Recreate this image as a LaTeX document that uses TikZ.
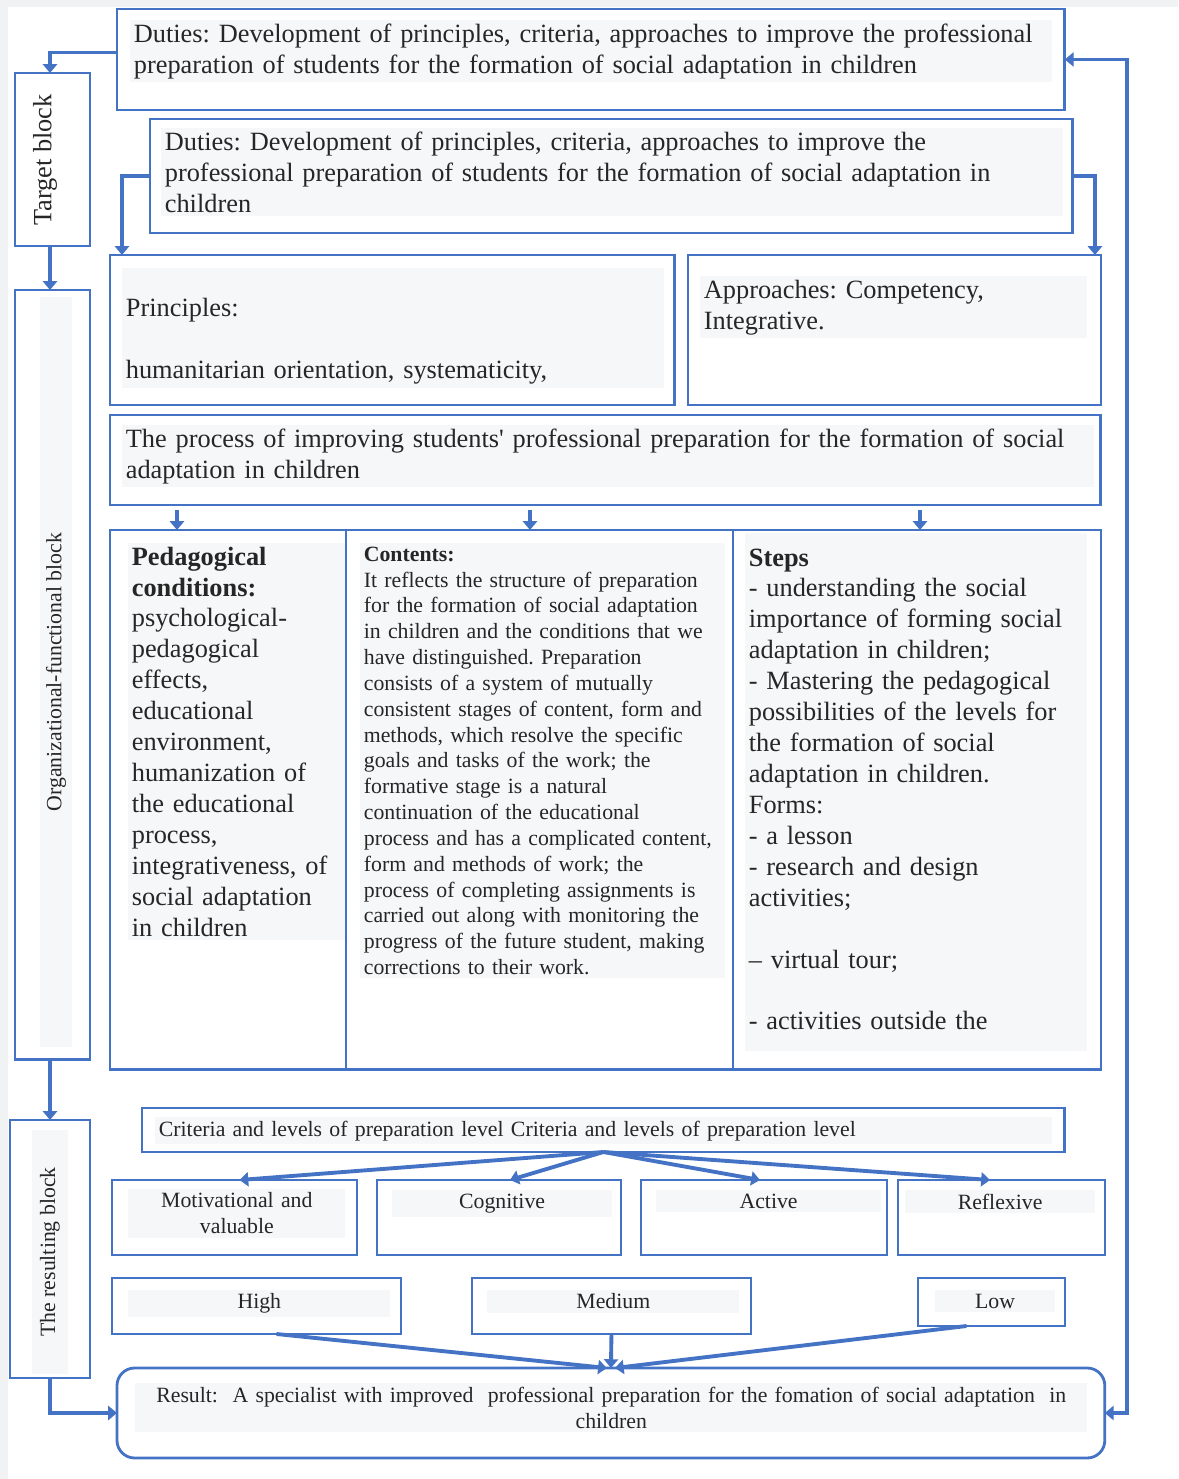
\documentclass[tikz,border=0pt]{standalone}
\usepackage{fontspec}
\setmainfont{Liberation Serif}
\usepackage{xcolor}
\usetikzlibrary{arrows.meta, positioning, calc}

\definecolor{frameblue}{HTML}{4472C4}
\definecolor{panelgray}{HTML}{F6F7F9}
\definecolor{pagegray}{HTML}{F1F2F4}
\frenchspacing

\begin{document}
\begin{tikzpicture}[
    x=0.02cm, y=-0.02cm,
    frame/.style={draw=frameblue, line width=1.6pt, anchor=north west, inner sep=0pt, outer sep=0pt},
    panel/.style={fill=panelgray, anchor=north west, inner sep=2pt, align=left, text=black!85},
    big/.style={font=\fontsize{15}{17.6}\selectfont},
    small/.style={font=\fontsize{12.4}{14.7}\selectfont},
    link/.style={draw=frameblue, line width=2.2pt, ->},
    >={Triangle[length=5pt,width=8pt]}
]
\useasboundingbox (0,0) rectangle (1178,1479);
\fill[pagegray] (0,0) rectangle (1178,1479);
\fill[white] (8,7) rectangle (1178,1479);

% Block frames
\node[frame, minimum width=1.5cm, minimum height=3.46cm] (target) at (15,73) {};
\node[frame, minimum width=1.5cm, minimum height=15.4cm] (orgblk) at (15,290) {};
\node[frame, minimum width=1.6cm, minimum height=5.16cm] (resblk) at (10,1120) {};

% Duties
\node[frame, minimum width=18.96cm, minimum height=2.02cm] (duty1) at (117,9) {};
\node[frame, minimum width=18.46cm, minimum height=2.28cm] (duty2) at (150,119) {};

% Principles, approaches, process
\node[frame, minimum width=11.3cm, minimum height=3cm] (princ) at (110,255) {};
\node[frame, minimum width=8.26cm, minimum height=3cm] (appr) at (688,255) {};
\node[frame, minimum width=19.82cm, minimum height=1.8cm] (process) at (110,415) {};

% Three columns
\node[frame, minimum width=4.72cm, minimum height=10.8cm] (cond) at (110,530) {};
\node[frame, minimum width=7.74cm, minimum height=10.8cm] (contents) at (346,530) {};
\node[frame, minimum width=7.36cm, minimum height=10.8cm] (steps) at (733,530) {};

% Criteria and levels
\node[frame, minimum width=18.46cm, minimum height=0.88cm] (crit) at (142,1108) {};
\node[frame, minimum width=4.9cm, minimum height=1.5cm] (motiv) at (112,1180) {};
\node[frame, minimum width=4.88cm, minimum height=1.5cm] (cogn) at (377,1180) {};
\node[frame, minimum width=4.92cm, minimum height=1.5cm] (activ) at (641,1180) {};
\node[frame, minimum width=4.14cm, minimum height=1.5cm] (reflex) at (898,1180) {};
\node[frame, minimum width=5.78cm, minimum height=1.12cm] (high) at (112,1278) {};
\node[frame, minimum width=5.58cm, minimum height=1.12cm] (medium) at (472,1278) {};
\node[frame, minimum width=2.94cm, minimum height=0.96cm] (low) at (918,1278) {};

% Result
\node[frame, rounded corners=10pt, minimum width=19.76cm, minimum height=1.8cm] (result) at (117,1368) {};

% Block labels
\node[big, rotate=90, text=black!85] (targettxt) at (45,160) {Target block};
\node[small, rotate=90, fill=panelgray, minimum width=15cm, minimum height=0.64cm, text=black!85] (orgtxt) at (56,672) {Organizational-functional block};
\node[small, rotate=90, fill=panelgray, minimum width=4.9cm, minimum height=0.72cm, text=black!85] (restxt) at (50,1252) {The resulting block};

% Texts
\node[panel, big, text width=18.3cm] (duty1txt) at (130,20) {Duties: Development of principles, criteria, approaches to improve the professional\\preparation of students for the formation of social adaptation in children};
\node[panel, big, text width=17.9cm] (duty2txt) at (161,128) {Duties: Development of principles, criteria, approaches to improve the\\professional preparation of students for the formation of social adaptation in\\children};
\node[panel, big, text width=10.7cm] (princtxt) at (122,268) {\mbox{}\\[8pt]Principles:\\\mbox{}\\humanitarian orientation, systematicity,};
\node[panel, big, text width=7.6cm] (apprtxt) at (700,276) {Approaches: Competency,\\Integrative.};
\node[panel, big, text width=19.3cm] (processtxt) at (122,425) {The process of improving students\textquotesingle{} professional preparation for the formation of social\\adaptation in children};
\node[panel, big, text width=4.2cm] (condtxt) at (128,543) {\textbf{Pedagogical}\\\textbf{conditions:}\\psychological-\\pedagogical\\effects,\\educational\\environment,\\humanization of\\the educational\\process,\\integrativeness, of\\social adaptation\\in children};
\node[panel, small, text width=7.15cm] (contentstxt) at (360,543) {\textbf{Contents:}\\It reflects the structure of preparation\\for the formation of social adaptation\\in children and the conditions that we\\have distinguished. Preparation\\consists of a system of mutually\\consistent stages of content, form and\\methods, which resolve the specific\\goals and tasks of the work; the\\formative stage is a natural\\continuation of the educational\\process and has a complicated content,\\form and methods of work; the\\process of completing assignments is\\carried out along with monitoring the\\progress of the future student, making\\corrections to their work.};
\node[panel, big, text width=6.7cm, minimum height=10.36cm, text depth=9.4cm] (stepstxt) at (745,533) {\textbf{Steps}\\- understanding the social\\importance of forming social\\adaptation in children;\\- Mastering the pedagogical\\possibilities of the levels for\\the formation of social\\adaptation in children.\\Forms:\\- a lesson\\- research and design\\activities;\\\mbox{}\\-- virtual tour;\\\mbox{}\\- activities outside the};
\node[panel, small, text width=17.8cm] (crittxt) at (155,1117) {Criteria and levels of preparation level Criteria and levels of preparation level};
\node[panel, small, text width=4.2cm, align=center] (motivtxt) at (128,1189) {Motivational and\\valuable};
\node[panel, small, text width=4.25cm, align=center] (cogntxt) at (392,1190) {Cognitive};
\node[panel, small, text width=4.35cm, align=center] (activtxt) at (656,1190) {Active};
\node[panel, small, text width=3.65cm, align=center] (reflextxt) at (905,1190) {Reflexive};
\node[panel, small, text width=5.1cm, align=center] (hightxt) at (128,1290) {High};
\node[panel, small, text width=4.9cm, align=center] (mediumtxt) at (487,1290) {Medium};
\node[panel, small, text width=2.25cm, align=center] (lowtxt) at (935,1290) {Low};
\node[panel, small, text width=18.9cm, align=center] (resulttxt) at (135,1383) {Result:\ \ A specialist with improved\ \ professional preparation for the fomation of social adaptation\ \ in\\children};

% Left chain
\draw[link] ([yshift=0.14cm]duty1.west) -| ([xshift=-0.05cm]target.north);
\draw[link] ([xshift=-0.05cm]target.south) -- ([xshift=-0.05cm]orgblk.north);
\draw[link] (resblk.north |- orgblk.south) -- (resblk.north);
\draw[link] (resblk.south) |- (result.west);

% Duties to principles and approaches
\draw[link] (duty2.west) -| ([xshift=0.24cm]princ.north west);
\draw[link] (duty2.east) -| ([xshift=-0.12cm]appr.north east);

% Feedback on the right
\draw[draw=frameblue, line width=2.2pt, <->] (duty1.east) -- ++(1.24cm,0) coordinate (loopR) |- (result.east);

% Process to columns
\draw[link] ([xshift=-1.02cm,yshift=0.4cm]cond.north) -- ([xshift=-1.02cm]cond.north);
\draw[link] ([xshift=-0.19cm,yshift=0.4cm]contents.north) -- ([xshift=-0.19cm]contents.north);
\draw[link] ([xshift=0.06cm,yshift=0.4cm]steps.north) -- ([xshift=0.06cm]steps.north);

% Criteria to components
\draw[link] (crit.south) -- ([xshift=0.1cm]motiv.north);
\draw[link] (crit.south) -- ([xshift=0.22cm]cogn.north);
\draw[link] (crit.south) -- ([xshift=-0.08cm]activ.north);
\draw[link] (crit.south) -- ([xshift=-0.23cm]reflex.north);

% Levels to result
\draw[link] ([xshift=0.4cm]high.south) -- ([xshift=-0.08cm]result.north);
\draw[link] (medium.south) -- (result.north);
\draw[link] ([xshift=-0.5cm]low.south) -- ([xshift=0.08cm]result.north);
\end{tikzpicture}
\end{document}
